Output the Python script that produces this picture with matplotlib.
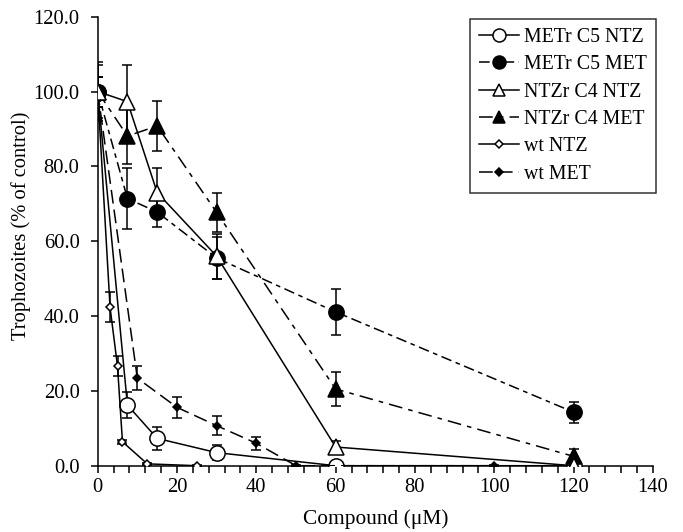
import numpy as np
import matplotlib.pyplot as plt
from matplotlib.lines import Line2D

plt.rcParams['font.family'] = ['Liberation Serif', 'DejaVu Serif']

# METr C5 NTZ
x_metr_ntz = [0, 7.5, 15, 30, 60, 120]
y_metr_ntz = [100, 16.2, 7.3, 3.5, 0, 0]
e_metr_ntz = [4, 3.4, 3.0, 2.1, 0.5, 0.5]

# METr C5 MET
x_metr_met = [0, 7.5, 15, 30, 60, 120]
y_metr_met = [100, 71.4, 67.8, 55.5, 41.1, 14.3]
e_metr_met = [4, 8.2, 4.0, 5.5, 6.1, 2.8]

# NTZr C4 NTZ
x_ntzr_ntz = [0, 7.5, 15, 30, 60, 120]
y_ntzr_ntz = [100, 97.3, 73.0, 56.0, 5.0, 0]
e_ntzr_ntz = [8, 9.8, 6.6, 6.0, 1.5, 0.5]

# NTZr C4 MET
x_ntzr_met = [0, 7.5, 15, 30, 60, 120]
y_ntzr_met = [100, 88.1, 90.8, 67.7, 20.5, 2.5]
e_ntzr_met = [4, 7.4, 6.8, 5.3, 4.6, 2.0]

# wt NTZ
x_wt_ntz = [0, 3.125, 5, 6.25, 12.5, 25]
y_wt_ntz = [100, 42.3, 26.6, 6.4, 0.5, 0]
e_wt_ntz = [4, 4.0, 2.7, 0.5, 0.2, 0.1]

# wt MET
x_wt_met = [0, 10, 20, 30, 40, 50, 100]
y_wt_met = [100, 23.4, 15.6, 10.7, 6.0, 0, 0]
e_wt_met = [7, 3.2, 2.8, 2.5, 1.8, 0.2, 0.2]

series = [
    (x_metr_ntz, y_metr_ntz, e_metr_ntz, 'METr C5 NTZ', 'o', 11, 'white', None),
    (x_metr_met, y_metr_met, e_metr_met, 'METr C5 MET', 'o', 11, 'black', (7, 3, 3, 3)),
    (x_ntzr_ntz, y_ntzr_ntz, e_ntzr_ntz, 'NTZr C4 NTZ', '^', 11, 'white', None),
    (x_ntzr_met, y_ntzr_met, e_ntzr_met, 'NTZr C4 MET', '^', 11, 'black', (9, 4, 3, 4)),
    (x_wt_ntz, y_wt_ntz, e_wt_ntz, 'wt NTZ', 'D', 4.5, 'white', None),
    (x_wt_met, y_wt_met, e_wt_met, 'wt MET', 'D', 4.5, 'black', (9, 4)),
]

fig = plt.figure(figsize=(6.83, 5.32), dpi=100)
ax = fig.add_axes([0.143, 0.1246, 0.813, 0.844])

handles = []
for xs, ys, es, lab, mk, ms, fc, ds in series:
    ls = dict(linestyle='-') if ds is None else dict(dashes=ds)
    z = 4 if lab == 'NTZr C4 NTZ' else 3
    ax.errorbar(xs, ys, yerr=es, marker=mk, ms=ms, mfc=fc, mec='black', mew=1.1,
                color='black', linewidth=1.1, ecolor='black', elinewidth=1.1,
                capsize=3.5, capthick=1.1, zorder=z, **ls)
    hms = ms * 0.85 if ms > 6 else ms
    handles.append(Line2D([], [], color='black', linewidth=1.1, marker=mk, ms=hms,
                          mfc=fc, mec='black', mew=1.1, label=lab, **ls))

ax.set_xlim(0, 140)
ax.set_ylim(0, 120)
ax.set_xticks(np.arange(0, 141, 20))
ax.set_xticks(np.arange(0, 141, 4), minor=True)
ax.set_yticks(np.arange(0, 121, 20))
ax.set_yticklabels(['%.1f' % v for v in np.arange(0, 121, 20)])
ax.spines['top'].set_visible(False)
ax.spines['right'].set_visible(False)
ax.spines['left'].set_linewidth(1.1)
ax.spines['bottom'].set_linewidth(1.1)
ax.tick_params(axis='both', which='both', direction='out', labelsize=14.8, width=1.1)
ax.tick_params(axis='x', which='both', length=5)
ax.tick_params(axis='y', length=5, pad=8)
ax.set_xlabel('Compound (\u03bcM)', fontsize=15.4, labelpad=9)
ax.set_ylabel('Trophozoites (% of control)', fontsize=14.8)
ax.yaxis.set_label_coords(-0.12, 0.534)

leg = ax.legend(handles=handles, loc='upper right', fontsize=14.3, frameon=True, fancybox=False,
                edgecolor='black', handlelength=2.0, borderpad=0.45, labelspacing=0.42,
                handletextpad=0.3, borderaxespad=0, bbox_to_anchor=(1.006, 0.995))
leg.get_frame().set_linewidth(1.1)

plt.savefig('out.png', dpi=100)
